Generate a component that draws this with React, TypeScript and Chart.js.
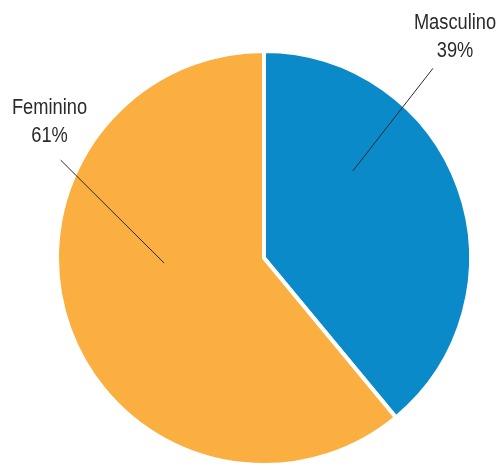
import React, { useEffect, useRef } from "react";
import { Chart, registerables } from "chart.js";

Chart.register(...registerables);

const categories = ["Masculino", "Feminino"];
const values = [39, 61];
const percentLabels = ["39%", "61%"];
const colors = ["#0A8AC9", "#FAAF40"];

// label placement: angles from top (deg), radius fractions, text centre x and first baseline y
const labelLayout = [
  { innerAngle: 45.6, innerR: 0.6, outerAngle: 41.7, outerR: 1.227, tx: 455, ty: 29 },
  { innerAngle: 267.1, innerR: 0.483, outerAngle: 295.7, outerR: 1.09, tx: 49.5, ty: 114 },
];

const labelPlugin = {
  id: "pieLabels",
  afterDatasetsDraw(chart: any) {
    const ctx = chart.ctx;
    const meta = chart.getDatasetMeta(0);
    meta.data.forEach((arc: any, i: number) => {
      const { x, y, outerRadius } = arc.getProps(["x", "y", "outerRadius"], true);
      const L = labelLayout[i];
      const r = outerRadius;
      const a1 = (L.innerAngle * Math.PI) / 180;
      const a2 = (L.outerAngle * Math.PI) / 180;
      ctx.save();
      ctx.strokeStyle = "#2a2a2a";
      ctx.lineWidth = 1;
      ctx.beginPath();
      ctx.moveTo(x + Math.sin(a1) * r * L.innerR, y - Math.cos(a1) * r * L.innerR);
      ctx.lineTo(x + Math.sin(a2) * r * L.outerR, y - Math.cos(a2) * r * L.outerR);
      ctx.stroke();
      ctx.restore();

      ctx.save();
      ctx.fillStyle = "#2b2b2b";
      ctx.font = "22px 'Liberation Sans', Arial, sans-serif";
      ctx.textAlign = "center";
      ctx.textBaseline = "alphabetic";
      const sx = 0.83;
      ctx.translate(L.tx, L.ty);
      ctx.scale(sx, 1);
      ctx.fillText(categories[i], 0, 0);
      ctx.fillText(percentLabels[i], 0, 28);
      ctx.restore();
    });
  },
};

export default function App() {
  const ref = useRef<HTMLCanvasElement>(null);
  useEffect(() => {
    const chart = new Chart(ref.current!, {
      type: "pie",
      data: {
        labels: categories,
        datasets: [
          {
            data: values,
            backgroundColor: colors,
            borderColor: "#ffffff",
            borderWidth: 4,
          },
        ],
      },
      options: {
        animation: false,
        responsive: false,
        radius: 207,
        layout: { padding: { left: 27, right: 0, top: 51, bottom: 0 } },
        plugins: {
          legend: { display: false },
          tooltip: { enabled: false },
        },
      } as any,
      plugins: [labelPlugin],
    });
    return () => chart.destroy();
  }, []);
  return (
    <div style={{ position: "fixed", left: 0, top: 0, width: 501, height: 465, background: "#fff" }}>
      <canvas ref={ref} width={501} height={465} style={{ width: 501, height: 465 }} />
    </div>
  );
}
